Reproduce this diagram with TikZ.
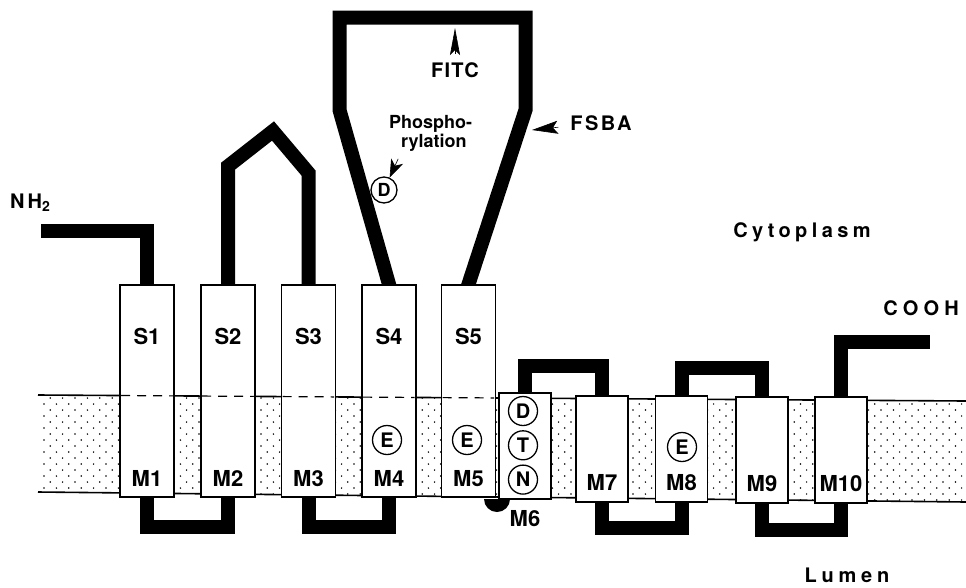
\documentclass[tikz,border=0pt]{standalone}
\usepackage{fontspec}
\setmainfont{TeX Gyre Heros}
\usetikzlibrary{positioning,arrows.meta,calc,backgrounds}

\begin{document}
\begin{tikzpicture}[
  x=1pt, y=-1pt,
  chain/.style={line width=14pt},
  stalk/.style={draw, fill=white, line width=1.6pt, inner sep=0pt,
                minimum width=54pt, minimum height=212pt},
  mem/.style={stalk, minimum width=52pt, minimum height=106pt},
  lbl/.style={font=\bfseries\fontsize{22}{22}\selectfont, inner sep=0pt},
  res/.style={circle, draw, fill=white, line width=1.3pt, inner sep=0pt,
              minimum size=29pt, font=\bfseries\fontsize{20}{20}\selectfont},
  word/.style={font=\bfseries\fontsize{20}{20}\selectfont\addfontfeatures{LetterSpace=#1},
               inner sep=0pt},
  word/.default=0,
  pointer/.style 2 args={-{Stealth[length=#1, width=#2, inset=5pt]}, line width=0.6pt}]
  \useasboundingbox (0,0) rectangle (966,587);
  % membrane
  \coordinate (mtl) at (38,395);
  \coordinate (mtr) at (966,401);
  \coordinate (mbl) at (38,492);
  \coordinate (mbr) at (966,502);
  \begin{scope}
    \clip (mtl) -- (mtr) -- (mbr) -- (mbl) -- cycle;
    \foreach \r in {0,...,18}
      \foreach \c in {0,...,75}
        \fill ({44+12.4*\c+6.2*mod(\r,2)},{392+6*\r}) circle[radius=0.85pt];
  \end{scope}
  \draw[line width=1.6pt] (mtl) -- (mtr) (mbl) -- (mbr);
  % segments S1/M1 ... S5/M5
  \foreach \n/\x in {1/147, 2/228, 3/308.5, 4/389, 5/468.5} {
    \node[stalk] (s\n) at (\x,391) {};
    \draw[line width=1.2pt, dash pattern=on 9pt off 7pt, shorten <=2pt, shorten >=2pt]
      ($(mtl)!(s\n.west)!(mtr)$) -- ($(mtl)!(s\n.east)!(mtr)$);
    \node[lbl, below=52pt of s\n.north, anchor=center] (ls\n) {S\n};
    \node[lbl, above=19pt of s\n.south, anchor=center] (lm\n) {M\n};
  }
  % segments M6 ... M10
  \foreach \n/\x/\y in {6/525/446, 7/602/449, 8/681.5/449, 9/762/450, 10/841/450}
    \node[mem] (m\n) at (\x,\y) {};
  \foreach \n in {7,...,10}
    \node[lbl, above=20pt of m\n.south, anchor=center] (lm\n) {M\n};
  \node[lbl, below=19pt of m6.south, anchor=center] (lm6) {M6};
  \coordinate (hinge) at (497,499);
  \fill (hinge) ++(13,0) arc[start angle=0, end angle=180, radius=13] -- cycle;
  % chain
  \coordinate (nterm) at (41,231);
  \coordinate (cterm) at (930,342);
  \begin{scope}[on background layer]
    \draw[chain] (nterm) -| (s1.north);
    \draw[chain] (s1.south) -- ++(0,29) -| (s2.south);
    \draw[chain] (s2.north) -- ++(0,-118) -- (273,131) -- (s3.north |- 0,173) -- (s3.north);
    \draw[chain] (s3.south) -- ++(0,29) -| (s4.south);
    \draw[chain, shorten <=-6pt, shorten >=-6pt] (s4.north) -- (339.5,110) -- (339.5,17.5)
      -- (525.5,17.5) -- (525.5,110) -- (s5.north);
    \draw[chain] (m6.north) -- ++(0,-26) -| (m7.north);
    \draw[chain] (m7.south) -- ++(0,25) -| (m8.south);
    \draw[chain] (m8.north) -- ++(0,-27) -| (m9.north);
    \draw[chain] (m9.south) -- ++(0,26) -| (m10.south);
    \draw[chain] (m10.north) |- (cterm);
  \end{scope}
  % residues
  \node[res] (e4) at (387,440) {E};
  \node[res] (e5) at (467,440) {E};
  \node[res] (d6) at (523,411) {D};
  \node[res, below=4pt of d6] (t6) {T};
  \node[res, below=4pt of t6] (n6) {N};
  \node[res] (e8) at (682,447) {E};
  \node[res, minimum size=26pt, font=\bfseries\fontsize{18}{18}\selectfont] (dsite) at (384,190) {D};
  % labels and probes
  \node[word=15, anchor=base west] (nh) at (10,208) {NH\textsubscript{2}};
  \node[word=22, anchor=base] (cyto) at (802,237) {Cytoplasm};
  \node[word=26, anchor=base] (cooh) at (921,315) {COOH};
  \node[word=24, anchor=base] (lumen) at (847,582) {Lumen};
  \node[word=6, anchor=base] (fitc) at (455,77) {FITC};
  \node[word=12, anchor=base] (fsba) at (601,130) {FSBA};
  \node[word, align=left, anchor=north west, font=\bfseries\fontsize{18}{19}\selectfont]
    (phos) at (389,115) {Phospho-\\\hspace*{12pt}rylation};
  \coordinate (fitctip) at (455,28);
  \coordinate (fsbatip) at (532,130);
  \coordinate (phbase) at (399,157);
  \draw[pointer={27pt}{10pt}, shorten <=8pt] (fitc) -- (fitctip);
  \draw[pointer={26pt}{13pt}, shorten <=12pt] (fsba) -- (fsbatip);
  \draw[pointer={18pt}{13pt}, shorten <=2pt] (phbase) -- (dsite);
\end{tikzpicture}
\end{document}
